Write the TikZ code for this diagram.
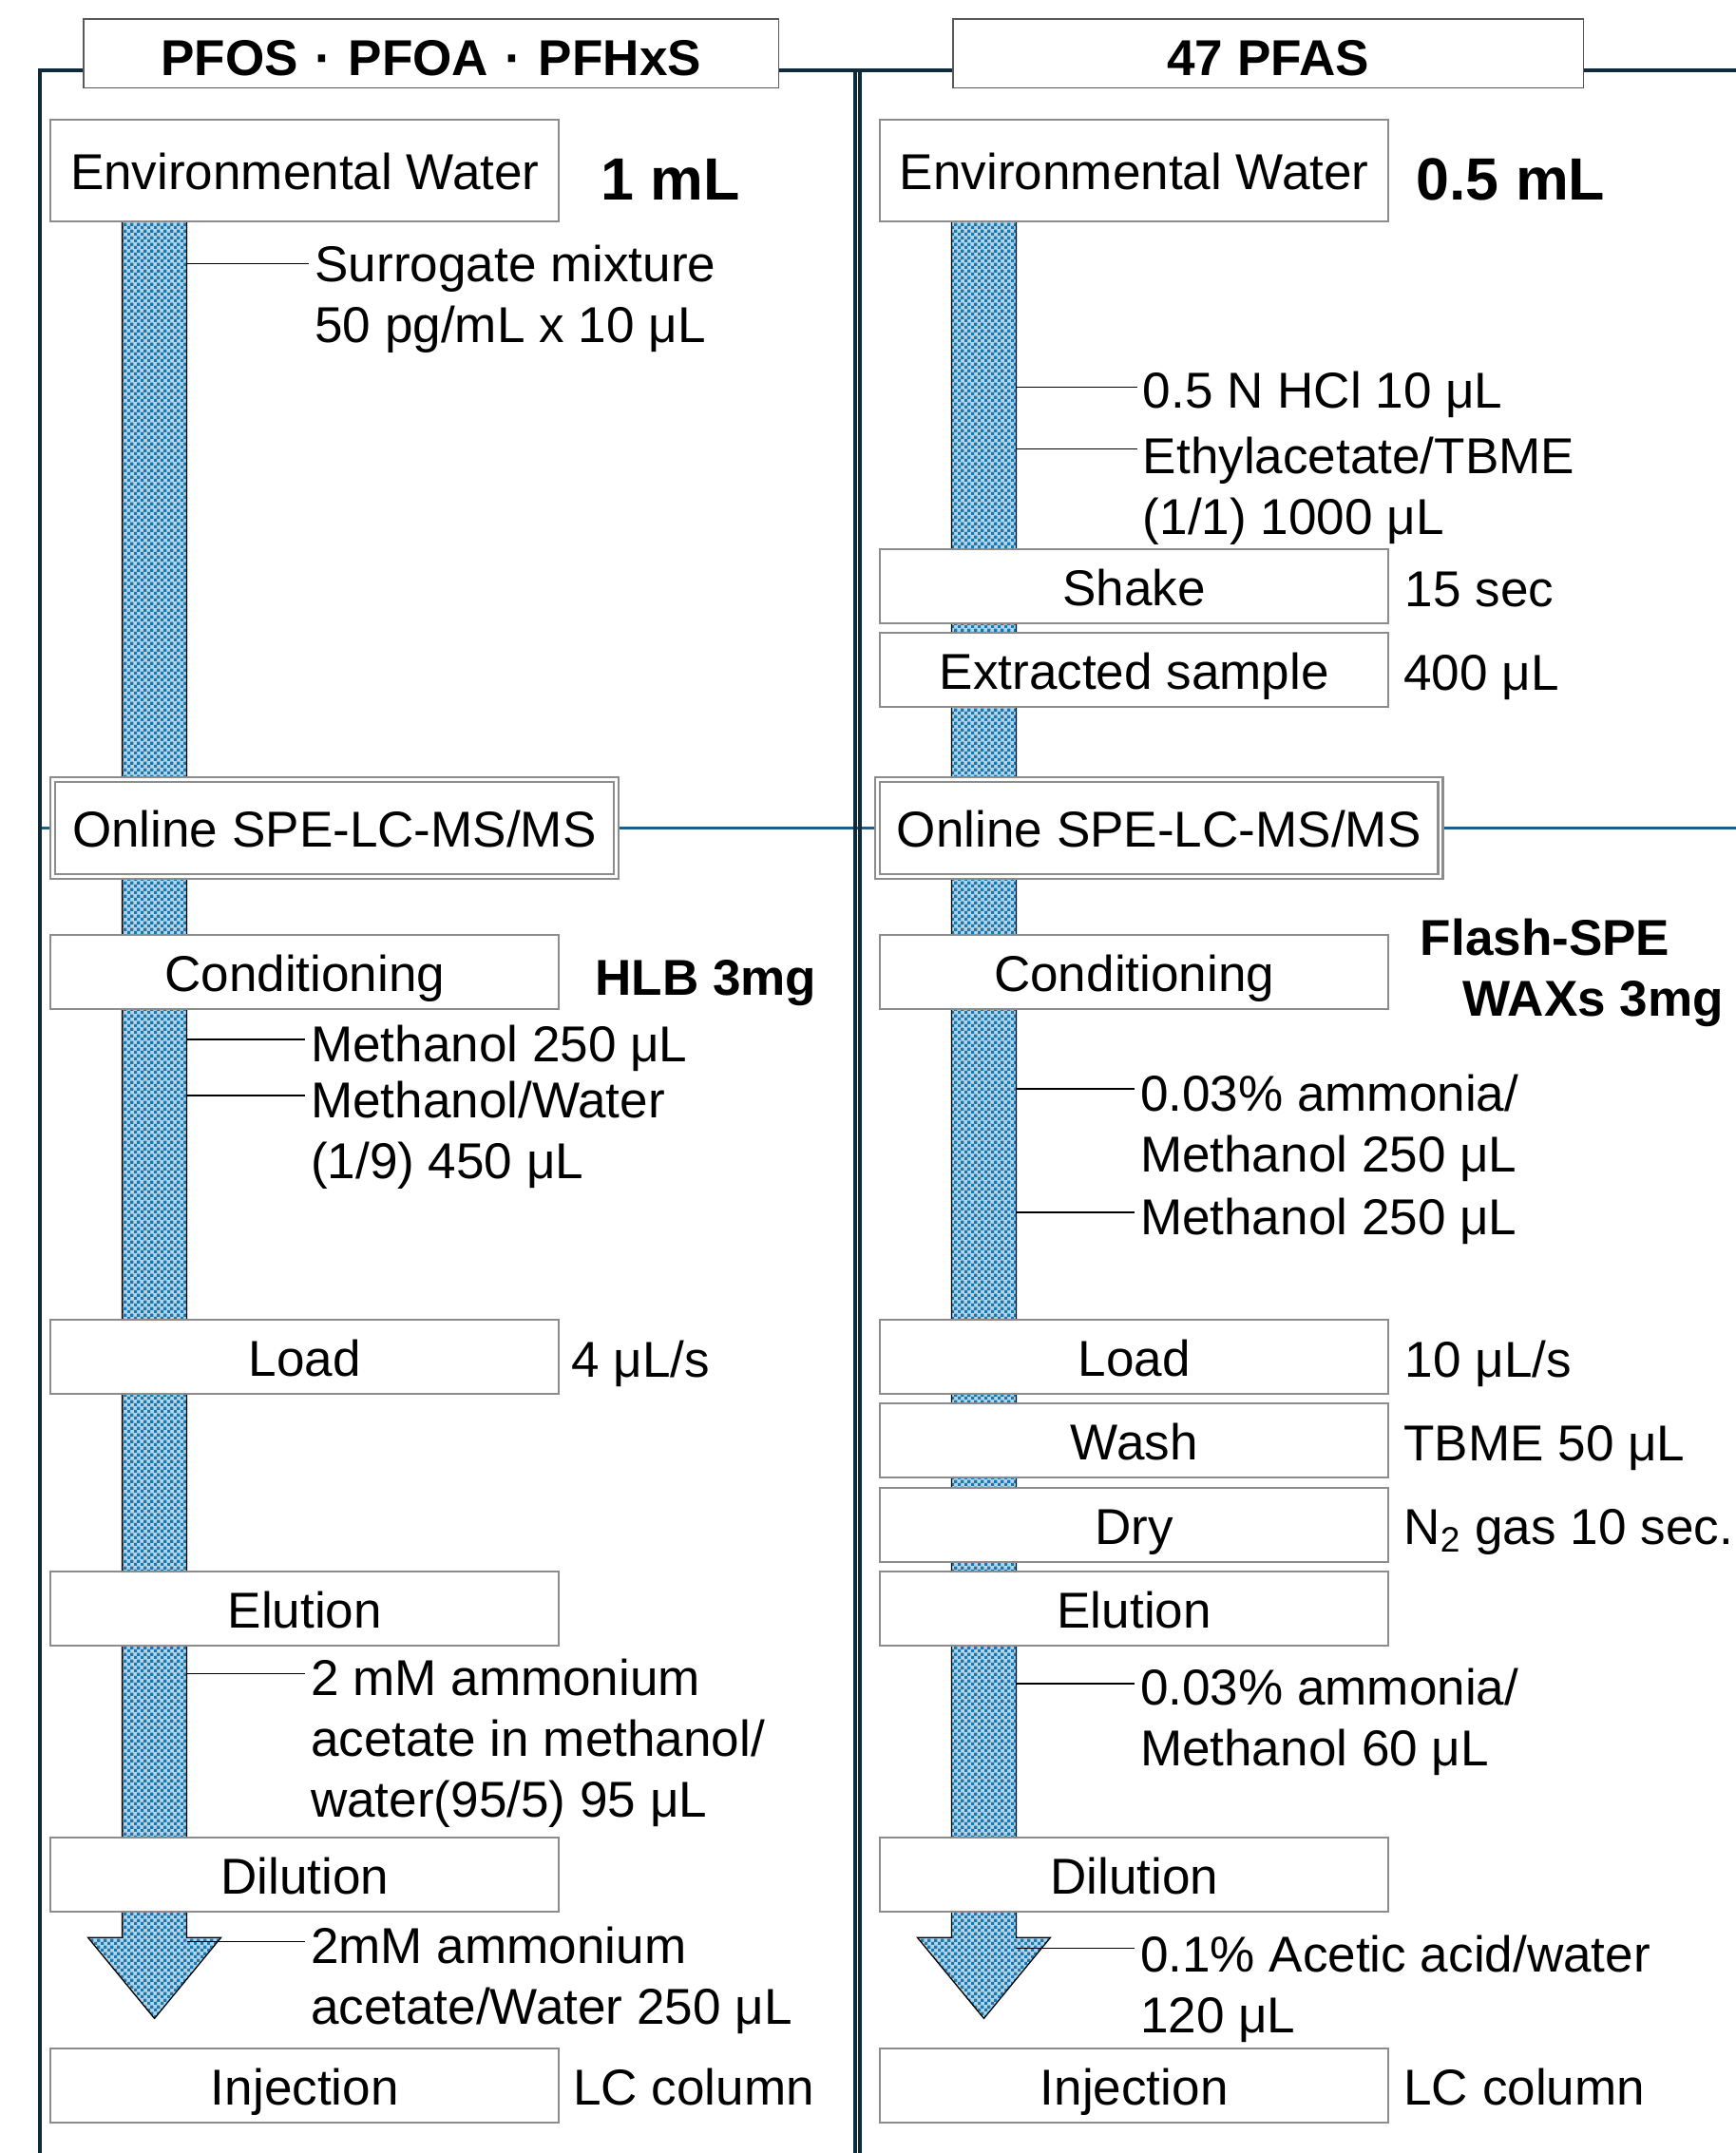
\documentclass[tikz,border=0pt]{standalone}
\usepackage{fontspec}
\setmainfont{Liberation Sans}
\usetikzlibrary{patterns}
\definecolor{framecol}{HTML}{0E2A3B}
\definecolor{boxgray}{HTML}{8C8C8C}
\definecolor{hdrgray}{HTML}{595959}
\definecolor{linkblue}{HTML}{1B6088}
\definecolor{checkblue}{HTML}{1A78AE}
\definecolor{checklight}{HTML}{B4D4E8}
\newcommand{\dotsep}{\hspace{0.33em}·\hspace{0.33em}}
\pgfdeclarepatternformonly{finecheck}{\pgfqpoint{0pt}{0pt}}{\pgfqpoint{2.8pt}{2.8pt}}{\pgfqpoint{2.8pt}{2.8pt}}{%
  \pgfpathrectangle{\pgfpointorigin}{\pgfqpoint{1.4pt}{1.4pt}}%
  \pgfpathrectangle{\pgfqpoint{1.4pt}{1.4pt}}{\pgfqpoint{1.4pt}{1.4pt}}%
  \pgfusepath{fill}}
\begin{document}
\begin{tikzpicture}[x=0.2mm,y=-0.2mm,
  every node/.style={font=\fontsize{20.9pt}{25.2pt}\selectfont},
  stepbox/.style={draw=boxgray,line width=0.8pt,fill=white,minimum width=74mm,minimum height=10.8mm,inner sep=0pt,text height=16pt,text depth=0pt},
  tallbox/.style={stepbox,minimum height=14.8mm},
  spebox/.style={draw=boxgray,line width=0.3mm,double=white,double distance=0.4mm,minimum width=82mm,minimum height=14.2mm,inner sep=0pt,text height=16pt,text depth=0pt},
  header/.style={draw=hdrgray,line width=0.6pt,fill=white,minimum height=10mm,inner sep=0pt,text height=18.4pt,text depth=0pt,font=\fontsize{20.9pt}{25.2pt}\selectfont\bfseries},
  note/.style={anchor=base west,inner sep=0pt,align=left},
  bignote/.style={note,font=\fontsize{24.7pt}{30pt}\selectfont\bfseries},
  boldnote/.style={note,font=\fontsize{20.9pt}{25.2pt}\selectfont\bfseries},
  tick/.style={line width=0.6pt,black,shorten >=0.8mm},
  flow/.style={preaction={fill=checklight},pattern=finecheck,pattern color=checkblue,draw=black,line width=0.5pt},
  framel/.style={draw=framecol,line width=1.6pt},
  link/.style={draw=linkblue,line width=1.2pt}
]
\useasboundingbox (0,0) rectangle (1264,1568);
\fill[white] (0,0) rectangle (1264,1568);

\coordinate (linkL) at (29,603);
\coordinate (linkR) at (1264,603);

% flow arrows (drawn first, boxes cover them)
\draw[flow] (89,161) -- (89,1411) -- (64,1411) -- (112.5,1470) -- (161,1411) -- (136,1411) -- (136,161);
\draw[flow] (693,161) -- (693,1411) -- (668,1411) -- (716.5,1470) -- (765,1411) -- (740,1411) -- (740,161);

% link line and frame
\draw[link] (linkL) -- (linkR);
\draw[framel] (29,1568) -- (29,51) -- (1264,51);
\draw[framel] (622.9,51) -- (622.9,1568);
\draw[framel] (626.4,51) -- (626.4,1568);

% ---------- left column ----------
\node[tallbox] (envL) at (222,124) {Environmental Water};
\node[bignote] (volL) at (437,146) {1 mL};
\node[note] (surL) at (229,249.3) {Surrogate mixture\\50 pg/mL x 10 μL};
\node[spebox,fill=white] (speL) at (243.5,603) {Online SPE-LC-MS/MS};
\node[stepbox] (condL) at (222,708) {Conditioning};
\node[boldnote] (hlb) at (433,725) {HLB 3mg};
\node[note] (methL) at (226,773) {Methanol 250 μL};
\node[note] (mwL) at (226,858.3) {Methanol/Water\\(1/9) 450 μL};
\node[stepbox] (loadL) at (222,988) {Load};
\node[note] (rateL) at (416,1003) {4 μL/s};
\node[stepbox] (eluL) at (222,1171.5) {Elution};
\node[note] (eluentL) at (226,1323.6) {2 mM ammonium\\acetate in methanol/\\water(95/5) 95 μL};
\node[stepbox] (dilL) at (222,1365.5) {Dilution};
\node[note] (dilutL) at (226,1474.3) {2mM ammonium\\acetate/Water 250 μL};
\node[stepbox] (injL) at (222,1519) {Injection};
\node[note] (colL) at (417,1533) {LC column};

\coordinate (sL1) at (136,192);
\coordinate (sL2) at (136,757);
\coordinate (sL3) at (136,798);
\coordinate (sL4) at (136,1219);
\coordinate (sL5) at (136,1414);
\draw[tick] (sL1) -- (sL1 -| surL.west);
\draw[tick] (sL2) -- (sL2 -| methL.west);
\draw[tick] (sL3) -- (sL3 -| mwL.west);
\draw[tick] (sL4) -- (sL4 -| eluentL.west);
\draw[tick] (sL5) -- (sL5 -| dilutL.west);

% ---------- right column ----------
\node[tallbox] (envR) at (826,124) {Environmental Water};
\node[bignote] (volR) at (1031,146) {0.5 mL};
\node[note] (hcl) at (832,297) {0.5 N HCl 10 μL};
\node[note] (etac) at (832,389.3) {Ethylacetate/TBME\\(1/1) 1000 μL};
\node[stepbox] (shake) at (826,427) {Shake};
\node[note] (shaket) at (1023,442) {15 sec};
\node[stepbox] (extr) at (826,488) {Extracted sample};
\node[note] (extrv) at (1022,503) {400 μL};
\node[spebox,fill=white] (speR) at (844,603) {Online SPE-LC-MS/MS};
\node[stepbox] (condR) at (826,708) {Conditioning};
\node[boldnote] (wax) at (1034,740.3) {Flash-SPE\\\hspace*{17.6pt}WAXs 3mg};
\node[note] (ammR) at (830,853.3) {0.03\% ammonia/\\Methanol 250 μL};
\node[note] (methR) at (830,899) {Methanol 250 μL};
\node[stepbox] (loadR) at (826,988) {Load};
\node[note] (rateR) at (1023,1003) {10 μL/s};
\node[stepbox] (wash) at (826,1049) {Wash};
\node[note] (washv) at (1022,1064) {TBME 50 μL};
\node[stepbox] (dry) at (826,1110.5) {Dry};
\node[note] (dryv) at (1022,1125) {N\textsubscript{2} gas 10 sec.};
\node[stepbox] (eluR) at (826,1171.5) {Elution};
\node[note] (eluentR) at (830,1286.3) {0.03\% ammonia/\\Methanol 60 μL};
\node[stepbox] (dilR) at (826,1365.5) {Dilution};
\node[note] (dilutR) at (830,1480.3) {0.1\% Acetic acid/water\\120 μL};
\node[stepbox] (injR) at (826,1519) {Injection};
\node[note] (colR) at (1022,1533) {LC column};

\coordinate (sR1) at (740,282);
\coordinate (sR2) at (740,327);
\coordinate (sR3) at (740,793);
\coordinate (sR4) at (740,883);
\coordinate (sR5) at (740,1226);
\coordinate (sR6) at (740,1419);
\draw[tick] (sR1) -- (sR1 -| hcl.west);
\draw[tick] (sR2) -- (sR2 -| etac.west);
\draw[tick] (sR3) -- (sR3 -| ammR.west);
\draw[tick] (sR4) -- (sR4 -| methR.west);
\draw[tick] (sR5) -- (sR5 -| eluentR.west);
\draw[tick] (sR6) -- (sR6 -| dilutR.west);

% headers
\node[header,minimum width=101.2mm] (hdrL) at (314,39) {PFOS\dotsep PFOA\dotsep PFHxS};
\node[header,minimum width=91.8mm] (hdrR) at (923.5,39) {47 PFAS};
\end{tikzpicture}
\end{document}
